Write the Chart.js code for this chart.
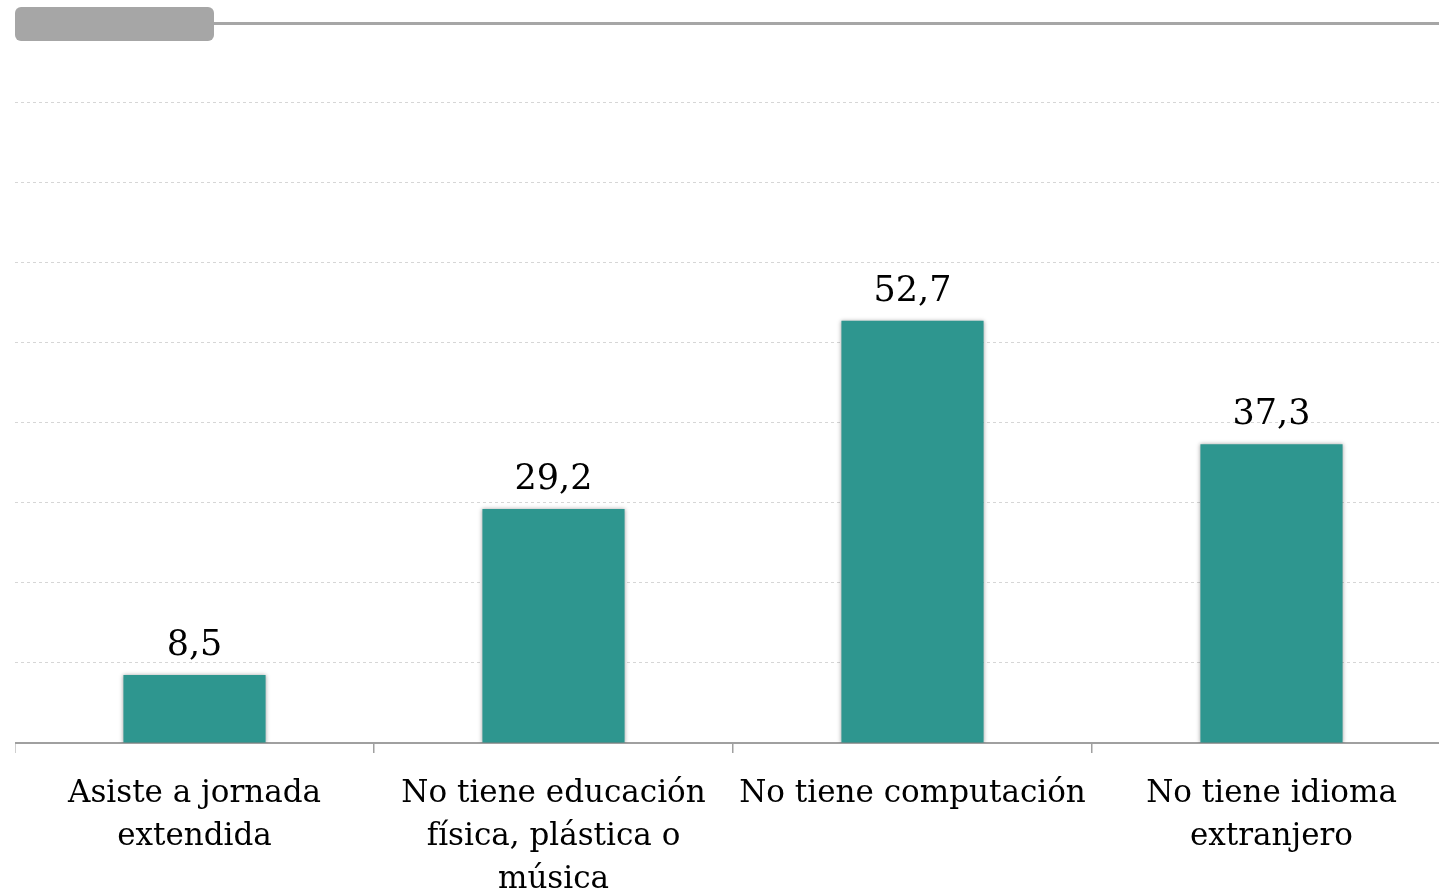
<!DOCTYPE html>
<html lang="es">
<head>
<meta charset="utf-8">
<title>Gráfico</title>
<script src="https://cdn.jsdelivr.net/npm/chart.js@4.4.1/dist/chart.umd.min.js"></script>
<style>
    html, body { margin: 0; padding: 0; background: #fff; overflow: hidden; }
    .cabecera {
        position: absolute; left: 15px; top: 7px; width: 199px; height: 34px;
        background: #a6a6a6; border-radius: 6px;
    }
    .linea {
        position: absolute; left: 214px; top: 22px; right: 0; height: 3px;
        background: #a6a6a6;
    }
    .grafico { position: absolute; left: 15px; top: 0; width: 1436px; height: 893px; }
</style>
</head>
<body>
<div class="linea"></div>
<div class="cabecera"></div>
<div class="grafico"><canvas id="barChart"></canvas></div>
<script>
// Datos (porcentajes)
const categorias = [
    ['Asiste a jornada', 'extendida'],
    ['No tiene educación', 'física, plástica o', 'música'],
    ['No tiene computación'],
    ['No tiene idioma', 'extranjero']
];
const valores = [8.5, 29.2, 52.7, 37.3];
const ejeY = { min: 0, max: 80, paso: 10 };

const fuente = "'DejaVu Serif', 'Liberation Serif', serif";

// Etiquetas de valor sobre cada barra, con coma decimal
const etiquetasValor = {
    id: 'etiquetasValor',
    afterDatasetsDraw(chart) {
        const ctx = chart.ctx;
        const meta = chart.getDatasetMeta(0);
        ctx.save();
        ctx.font = '35px ' + fuente;
        ctx.fillStyle = '#000';
        ctx.textAlign = 'center';
        ctx.textBaseline = 'alphabetic';
        meta.data.forEach((bar, i) => {
            const texto = valores[i].toFixed(1).replace('.', ',');
            ctx.fillText(texto, bar.x, bar.y - 20);
        });
        ctx.restore();
    }
};

// Sombra suave alrededor de las barras
const sombraBarras = {
    id: 'sombraBarras',
    beforeDatasetsDraw(chart) {
        chart.ctx.save();
        chart.ctx.shadowColor = 'rgba(0,0,0,0.35)';
        chart.ctx.shadowBlur = 4;
    },
    afterDatasetsDraw(chart) {
        chart.ctx.restore();
    }
};

function initChart() {
    const canvas = document.getElementById('barChart');
    new Chart(canvas.getContext('2d'), {
        type: 'bar',
        data: {
            labels: categorias,
            datasets: [{
                data: valores,
                backgroundColor: '#2e968f',
                borderWidth: 0,
                categoryPercentage: 0.8,
                barPercentage: 0.495
            }]
        },
        options: {
            responsive: true,
            maintainAspectRatio: false,
            animation: false,
            layout: { padding: { top: 102, left: 0, right: 0, bottom: 0 } },
            plugins: {
                legend: { display: false },
                title: { display: false },
                tooltip: { enabled: false }
            },
            scales: {
                x: {
                    grid: {
                        offset: true,
                        drawOnChartArea: false,
                        drawTicks: true,
                        tickLength: 10,
                        color: '#a0a0a0',
                        lineWidth: 1.5
                    },
                    border: { display: true, color: '#a0a0a0', width: 2 },
                    ticks: {
                        color: '#000',
                        font: { family: fuente, size: 31, lineHeight: 1.39 },
                        padding: 19,
                        maxRotation: 0,
                        autoSkip: false
                    },
                    afterFit(scale) { scale.height = 150; }
                },
                y: {
                    min: ejeY.min,
                    max: ejeY.max,
                    ticks: { display: false, stepSize: ejeY.paso },
                    grid: { color: '#d6d6d6', lineWidth: 1, drawTicks: false },
                    border: { display: false, dash: [3, 3] },
                    afterFit(scale) { scale.width = 0; }
                }
            }
        },
        plugins: [sombraBarras, etiquetasValor]
    });
}

document.addEventListener('DOMContentLoaded', initChart);
</script>
</body>
</html>
